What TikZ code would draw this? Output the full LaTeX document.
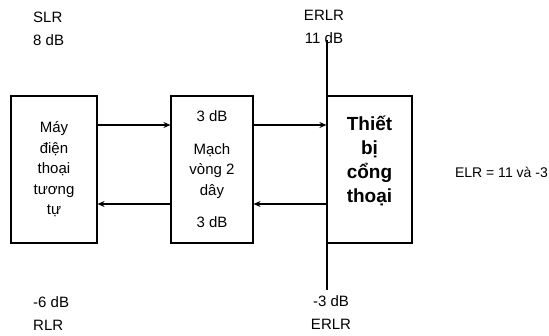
\documentclass[tikz,border=0pt]{standalone}
\usepackage{fontspec}
\setmainfont{Liberation Sans}
\usetikzlibrary{calc,arrows,arrows.meta,positioning}
\tikzset{
  boxnode/.style={draw, rectangle, minimum width=86pt, minimum height=147pt, align=center, line width=1.1pt, inner sep=0pt, font=\fontsize{15}{20.5}\selectfont},
  lbl/.style={inner sep=0pt, font=\fontsize{15}{23}\selectfont},
  arrow/.style={>={Stealth[length=7pt,width=6pt]}, line width=1.1pt, ->}
}

\begin{document}
\begin{tikzpicture}[x=1pt, y=1pt]
  \useasboundingbox (0,0) rectangle (549,336);
  \node [boxnode] (phone) at (54,166.5) {Máy\\điện\\thoại\\tương\\tự};
  \node [boxnode, minimum width=82pt] (loop) at (212,166.5) {3 dB\\[12pt] Mạch\\vòng 2\\dây\\[12pt] 3 dB};
  \node [boxnode, minimum width=85pt, font=\fontsize{19}{24}\selectfont\bfseries] (gateway) at (369.5,166.5) {Thiết\\bị\\cổng\\thoại\\[-4pt]};

  % reference line through the gateway input
  \coordinate (erlrtop) at (327,296);
  \coordinate (erlrbot) at (327,46);
  \draw [line width=1.1pt] (erlrtop) -- (erlrbot);

  \draw [arrow] ([yshift=44.5pt]phone.east) -- ([yshift=44.5pt]loop.west);
  \draw [arrow] ([yshift=-34.5pt]loop.west) -- ([yshift=-34.5pt]phone.east);
  \draw [arrow] ([yshift=44.5pt]loop.east) -- ([yshift=44.5pt]gateway.west);
  \draw [arrow] ([yshift=-34.5pt]gateway.west) -- ([yshift=-34.5pt]loop.east);

  \node [lbl, anchor=west, align=left] (slr) at (33,307.5) {SLR\\8 dB};
  \node [lbl, align=center] (erlrup) at (324,309.5) {ERLR\\11 dB};
  \node [lbl, anchor=west, align=left] (rlr) at (33,22.5) {-6 dB\\RLR};
  \node [lbl, align=center] (erlrdown) at (331,23.5) {-3 dB\\ERLR};
  \node [lbl, anchor=east, font=\fontsize{14}{17}\selectfont] (elr) at (548,164) {ELR = 11 và -3};
\end{tikzpicture}
\end{document}
